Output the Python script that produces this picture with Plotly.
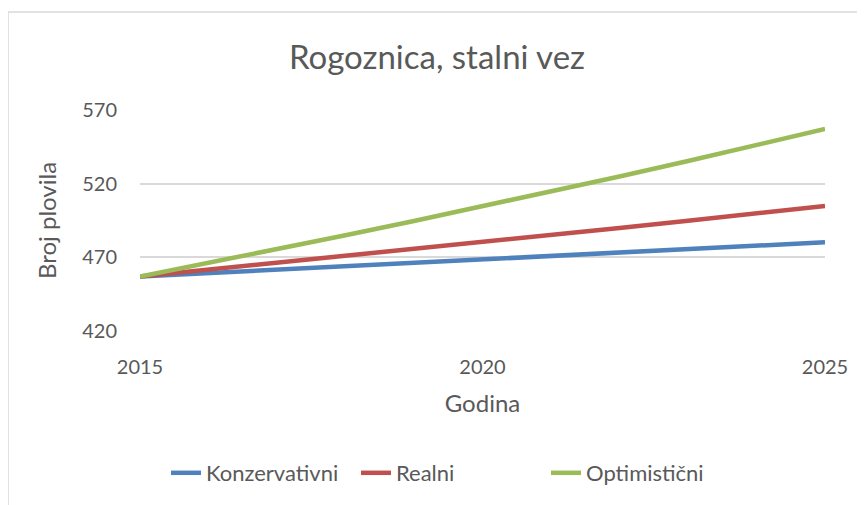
import plotly.graph_objects as go

years = [2015, 2016, 2017, 2018, 2019, 2020, 2021, 2022, 2023, 2024, 2025]
konzervativni = [457, 459.3, 461.6, 463.9, 466.2, 468.5, 470.8, 473.1, 475.5, 477.8, 480.2]
realni = [457, 461.6, 466.2, 470.9, 475.6, 480.3, 485.1, 489.9, 494.9, 499.8, 504.8]
optimisticni = [457, 466.1, 475.5, 485.0, 494.7, 504.6, 514.6, 524.9, 535.4, 546.1, 557.1]
series_names = ["Konzervativni", "Realni", "Optimistični"]
colors = ["#4F81BD", "#C0504D", "#9BBB59"]
y_ticks = [420, 470, 520, 570]
x_ticks = [2015, 2020, 2025]

FONT = "Lato, 'Open Sans', sans-serif"
# page body adds an 8px offset; figure is sized to fit the window
W, H = 857, 497
L, R, T, B = 132, 40, 102, 174

fig = go.Figure()
for name, vals, c in zip(series_names, [konzervativni, realni, optimisticni], colors):
    fig.add_trace(go.Scatter(x=years, y=vals, name=name, mode="lines",
                             line=dict(color=c, width=4.5)))

pw = W - L - R
ph = H - T - B
fig.add_shape(type="rect", xref="paper", yref="paper",
              x0=(0 - L) / pw, x1=(W + 20 - L) / pw,
              y0=1 - (H + 20 - T) / ph, y1=1 + (T - 4) / ph,
              line=dict(color="#D9D9D9", width=1.5), layer="below")

fig.update_layout(
    width=W, height=H,
    margin=dict(l=L, r=R, t=T, b=B),
    paper_bgcolor="white", plot_bgcolor="white",
    font=dict(family=FONT, color="#595959", size=20),
    title=dict(text="Rogoznica, stalni vez", x=429 / W, xref="container", xanchor="center",
               y=1 - 49 / H, yref="container", yanchor="middle",
               font=dict(size=33, color="#595959", family=FONT)),
    showlegend=True,
    legend=dict(orientation="h", xref="container", yref="container", x=158 / W, xanchor="left",
                y=1 - 465 / H, yanchor="middle", font=dict(size=22, color="#595959"),
                tracegroupgap=0, entrywidth=145, entrywidthmode="pixels"),
    xaxis=dict(range=[2015, 2025], tickvals=x_ticks, showgrid=False, zeroline=False,
               showline=False, ticks="", ticklabelstandoff=22,
               tickfont=dict(size=20, color="#595959"),
               title=dict(text="Godina", font=dict(size=24, color="#595959"), standoff=18)),
    yaxis=dict(range=[420, 570], tickvals=y_ticks, showgrid=True, gridcolor="#D9D9D9",
               gridwidth=1.5, zeroline=False, showline=False, ticks="", ticklabelstandoff=22,
               tickfont=dict(size=20, color="#595959"),
               title=dict(text="Broj plovila", font=dict(size=24, color="#595959"), standoff=18)),
)

fig.write_html("out.html")
